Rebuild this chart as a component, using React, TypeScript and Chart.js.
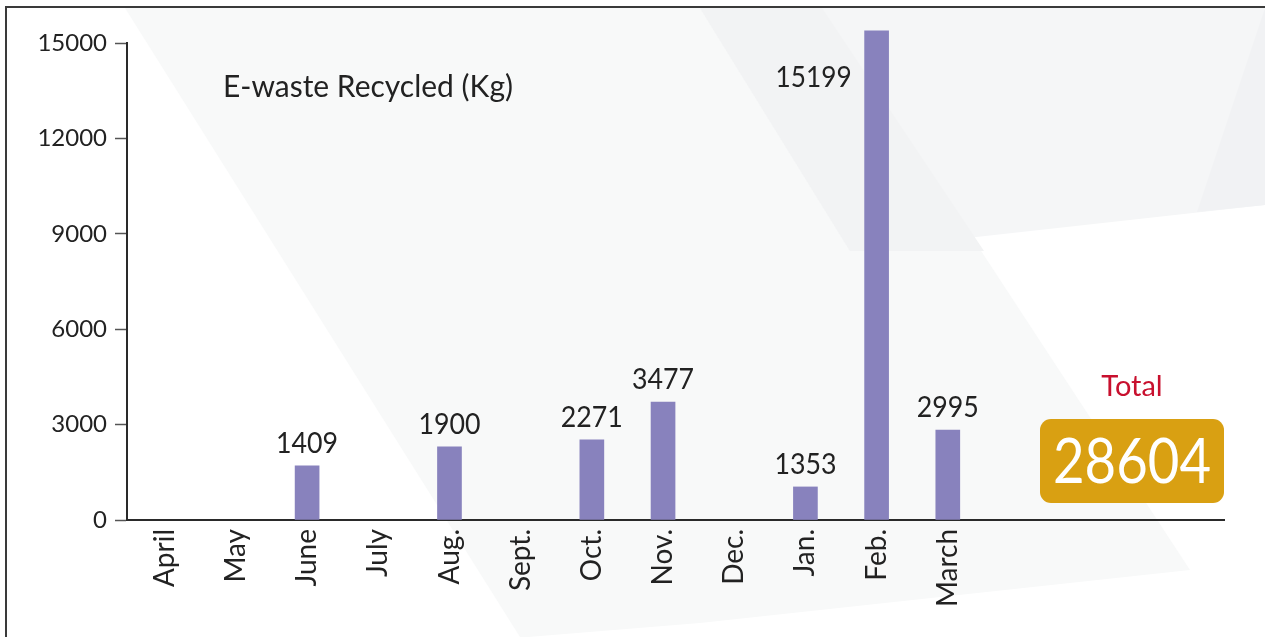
import React, { useEffect, useRef } from 'react';
import { Chart, registerables } from 'chart.js';

Chart.register(...registerables);

// ---- data ----
const months = ['April', 'May', 'June', 'July', 'Aug.', 'Sept.', 'Oct.', 'Nov.', 'Dec.', 'Jan.', 'Feb.', 'March'];
// figures printed above the bars (kg)
const reportedKg: (number | null)[] = [null, null, 1409, null, 1900, null, 2271, 3477, null, 1353, 15199, 2995];
// bar heights as drawn in the reference against its y axis (kg)
const barHeightKg: (number | null)[] = [null, null, 1700, null, 2300, null, 2520, 3710, null, 1040, 15380, 2830];
const yTicks = [0, 3000, 6000, 9000, 12000, 15000];
const chartTitle = 'E-waste Recycled (Kg)';
const totalCaption = 'Total';
const totalKg = reportedKg.reduce((a: number, b) => a + (b ?? 0), 0);

const FONT = 'Lato, "Open Sans", "DejaVu Sans", sans-serif';
const BAR_COLOR = '#8882bd';
const TEXT = '#222222';

const backgroundPlugin = {
  id: 'bgDecor',
  beforeDraw(chart: any) {
    const { ctx, width, height } = chart;
    ctx.save();
    ctx.fillStyle = '#ffffff';
    ctx.fillRect(0, 0, width, height);
    const poly = (pts: number[][], color: string) => {
      ctx.beginPath();
      ctx.moveTo(pts[0][0], pts[0][1]);
      for (let i = 1; i < pts.length; i++) ctx.lineTo(pts[i][0], pts[i][1]);
      ctx.closePath();
      ctx.fillStyle = color;
      ctx.fill();
    };
    poly([[125, 8], [822, 8], [1190, 570], [700, 623], [528, 637], [520, 637]], '#f8f9f9');
    poly([[700, 8], [1265, 8], [1265, 205], [850, 251]], '#f5f6f7');
    poly([[700, 8], [822, 8], [984, 251], [850, 251]], '#f2f3f4');
    poly([[1265, 8], [1265, 205], [1197, 212]], '#f1f2f4');
    // frame
    ctx.strokeStyle = '#3a3a3a';
    ctx.lineWidth = 2;
    ctx.beginPath();
    ctx.moveTo(6, height + 2);
    ctx.lineTo(6, 7);
    ctx.lineTo(width + 2, 7);
    ctx.stroke();
    ctx.restore();
  },
};

const overlayPlugin = {
  id: 'overlay',
  afterDatasetsDraw(chart: any) {
    const { ctx, chartArea } = chart;
    const meta = chart.getDatasetMeta(0);
    ctx.save();
    ctx.fillStyle = TEXT;
    ctx.font = `29px ${FONT}`;
    meta.data.forEach((el: any, i: number) => {
      const v = reportedKg[i];
      if (v == null || barHeightKg[i] == null) return;
      const txt = String(v);
      if (el.y - 40 < chartArea.top) {
        ctx.textAlign = 'right';
        ctx.textBaseline = 'alphabetic';
        ctx.fillText(txt, el.x - el.width / 2 - 13, el.y + 56, 76);
      } else {
        ctx.textAlign = 'center';
        ctx.textBaseline = 'alphabetic';
        ctx.fillText(txt, el.x, el.y - 13, 62);
      }
    });

    // title
    ctx.textAlign = 'left';
    ctx.textBaseline = 'alphabetic';
    ctx.font = `30px ${FONT}`;
    ctx.fillStyle = TEXT;
    ctx.fillText(chartTitle, 223, 97, 290);

    // total caption + box
    const cx = 1132;
    ctx.textAlign = 'center';
    ctx.fillStyle = '#c8102e';
    ctx.font = `29px ${FONT}`;
    ctx.fillText(totalCaption, cx, 396, 62);

    ctx.fillStyle = '#d9a012';
    ctx.beginPath();
    (ctx as any).roundRect(1040, 419, 184, 84, 11);
    ctx.fill();
    ctx.fillStyle = '#ffffff';
    ctx.font = `62px ${FONT}`;
    ctx.fillText(String(totalKg), cx, 483, 158);
    ctx.restore();
  },
};

export default function App() {
  const canvasRef = useRef<HTMLCanvasElement | null>(null);

  useEffect(() => {
    const canvas = canvasRef.current;
    if (!canvas) return;
    const chart = new Chart(canvas, {
      type: 'bar',
      data: {
        datasets: [
          {
            data: barHeightKg.map((v, i) => ({ x: i, y: v })) as any,
            backgroundColor: BAR_COLOR,
            borderWidth: 0,
            barThickness: 24,
            clip: false as any,
          },
        ],
      },
      options: {
        animation: false,
        responsive: false,
        devicePixelRatio: 1,
        layout: { padding: { top: 43, right: 41, left: 0, bottom: 0 } },
        plugins: { legend: { display: false }, tooltip: { enabled: false }, title: { display: false } },
        scales: {
          x: {
            type: 'linear',
            offset: false,
            min: -0.53,
            max: 14.88,
            afterBuildTicks: (s: any) => {
              s.ticks = months.map((_, i) => ({ value: i }));
            },
            afterFit: (s: any) => {
              s.height = 117;
            },
            grid: { display: false, drawTicks: false },
            border: { display: true, color: '#2a2a2a', width: 2 },
            ticks: {
              autoSkip: false,
              maxRotation: 90,
              minRotation: 90,
              padding: 9,
              color: TEXT,
              font: { family: FONT, size: 28 },
              callback: (v: any) => months[v] ?? '',
            },
          },
          y: {
            min: 0,
            max: 15000,
            afterBuildTicks: (s: any) => {
              s.ticks = yTicks.map((v) => ({ value: v }));
            },
            afterFit: (s: any) => {
              s.width = 127;
            },
            grid: { drawOnChartArea: false, drawTicks: true, tickLength: 12, tickColor: '#555', tickWidth: 1.5 },
            border: { display: true, color: '#2a2a2a', width: 2 },
            ticks: { padding: 8, color: TEXT, font: { family: FONT, size: 24 }, callback: (v: any) => String(v) },
          },
        },
      } as any,
      plugins: [backgroundPlugin, overlayPlugin],
    });
    return () => chart.destroy();
  }, []);

  return (
    <div style={{ position: 'fixed', left: 0, top: 0, width: 1265, height: 637, background: '#fff' }}>
      <canvas ref={canvasRef} width={1265} height={637} style={{ width: 1265, height: 637, display: 'block' }} />
    </div>
  );
}
